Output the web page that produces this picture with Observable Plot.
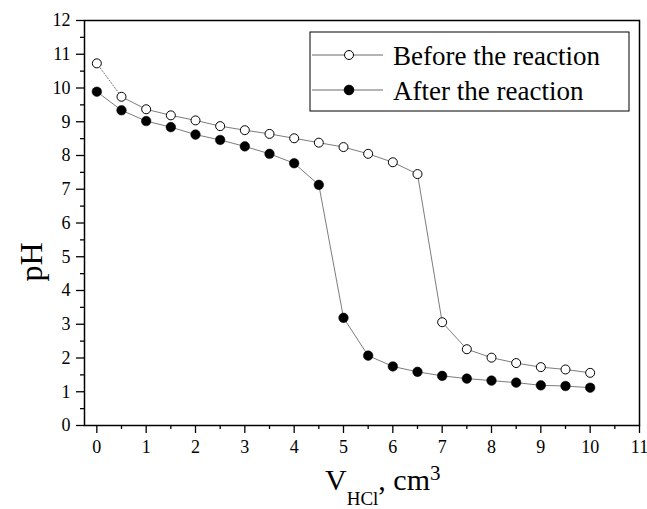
<!DOCTYPE html>
<html><head><meta charset="utf-8">
<script src="https://cdn.jsdelivr.net/npm/d3@7"></script>
<script src="https://cdn.jsdelivr.net/npm/@observablehq/plot@0.6"></script>
<style>body{margin:0;background:#fff;} svg{font-family:"Liberation Serif","Times New Roman",serif;}</style>
</head><body><div id="chart"></div>
<script>
const volumes = [0,0.5,1,1.5,2,2.5,3,3.5,4,4.5,5,5.5,6,6.5,7,7.5,8,8.5,9,9.5,10];
const phBefore = [10.73,9.74,9.37,9.19,9.04,8.87,8.75,8.64,8.51,8.38,8.25,8.05,7.80,7.45,3.06,2.26,2.01,1.85,1.73,1.66,1.56];
const phAfter = [9.89,9.34,9.02,8.84,8.62,8.46,8.27,8.05,7.77,7.13,3.19,2.07,1.75,1.59,1.47,1.39,1.33,1.27,1.19,1.17,1.12];
const seriesNames = ["Before the reaction","After the reaction"];
const xMajor = [0,1,2,3,4,5,6,7,8,9,10,11];
const xMinor = [0.5,1.5,2.5,3.5,4.5,5.5,6.5,7.5,8.5,9.5,10.5];
const yMajor = [0,1,2,3,4,5,6,7,8,9,10,11,12];
const yMinor = [0.5,1.5,2.5,3.5,4.5,5.5,6.5,7.5,8.5,9.5,10.5,11.5];

const before = volumes.map((v,i)=>({v, ph:phBefore[i], i}));
const after = volumes.map((v,i)=>({v, ph:phAfter[i], i}));

const chart = Plot.plot({
  width:647, height:509, marginLeft:84, marginRight:8, marginTop:20, marginBottom:84,
  style:{fontFamily:"Liberation Serif, Times New Roman, serif", fontSize:"18px", background:"white", color:"black"},
  x:{domain:[-0.25,11]}, y:{domain:[0,12]},
  marks:[
    Plot.axisX(xMajor,{tickSize:8, tickPadding:7, label:null, fontSize:18, tickFormat:d=>String(d), strokeWidth:1.3}),
    Plot.axisX(xMinor,{tickSize:4, tickFormat:()=>"", label:null, strokeWidth:1.3}),
    Plot.axisY(yMajor,{tickSize:8, tickPadding:6, label:null, fontSize:18, tickFormat:d=>String(d), strokeWidth:1.3}),
    Plot.axisY(yMinor,{tickSize:4, tickFormat:()=>"", label:null, strokeWidth:1.3}),
    Plot.frame({stroke:"black", strokeWidth:1.5}),
    Plot.line(before.filter(d=>d.i<=1),{x:"v", y:"ph", stroke:"#444", strokeWidth:0.8, strokeDasharray:"1,2"}),
    Plot.line(before.filter(d=>d.i>=1),{x:"v", y:"ph", stroke:"#444", strokeWidth:0.7}),
    Plot.line(after,{x:"v", y:"ph", stroke:"#444", strokeWidth:0.7}),
    Plot.dot(before,{x:"v", y:"ph", r:4.5, fill:"white", stroke:"black", strokeWidth:1}),
    Plot.dot(after,{x:"v", y:"ph", r:4.8, fill:"black", stroke:"black", strokeWidth:0.5})
  ]
});
document.getElementById("chart").append(chart);

const svg = d3.select(chart);
// axis titles
svg.append("text").attr("transform","translate(42,262) rotate(-90)")
  .attr("text-anchor","middle").attr("font-size",32).attr("fill","black").text("pH");
const xl = svg.append("text").attr("x",325).attr("y",490).attr("text-anchor","start").attr("font-size",30).attr("fill","black");
xl.append("tspan").text("V");
xl.append("tspan").attr("font-size",19).attr("dy",15).text("HCl");
xl.append("tspan").attr("dy",-15).text(", cm");
xl.append("tspan").attr("font-size",21).attr("dy",-10).text("3");

// legend
const lg = svg.append("g");
lg.append("rect").attr("x",310).attr("y",32).attr("width",319).attr("height",79)
  .attr("fill","white").attr("stroke","black").attr("stroke-width",1);
const rows = [{y:55, fill:"white", r:4.5},{y:90, fill:"black", r:4.8}];
rows.forEach((r,k)=>{
  lg.append("line").attr("x1",312).attr("x2",383).attr("y1",r.y).attr("y2",r.y).attr("stroke","#444").attr("stroke-width",0.8);
  lg.append("circle").attr("cx",349).attr("cy",r.y).attr("r",r.r).attr("fill",r.fill).attr("stroke","black");
  lg.append("text").attr("x",393).attr("y",r.y+9.5).attr("text-anchor","start").attr("font-size",27).attr("fill","black").text(seriesNames[k]);
});
</script></body></html>
